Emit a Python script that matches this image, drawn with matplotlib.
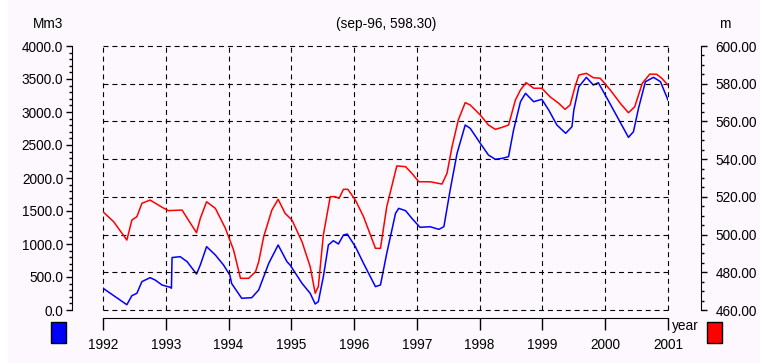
import matplotlib
matplotlib.use("Agg")
import matplotlib.pyplot as plt
from matplotlib.patches import Rectangle
from matplotlib.ticker import MultipleLocator, FormatStrFormatter

# volume (Mm3, left axis) - blue
vol_t = [1992.00, 1992.38, 1992.46, 1992.54, 1992.62, 1992.75, 1992.83, 1992.94,
         1993.07, 1993.09, 1993.10, 1993.23, 1993.34, 1993.49, 1993.55, 1993.65,
         1993.79, 1993.92, 1994.02, 1994.05, 1994.21, 1994.37, 1994.48, 1994.64,
         1994.79, 1994.93, 1994.98, 1995.17, 1995.30, 1995.38, 1995.43, 1995.51,
         1995.59, 1995.67, 1995.75, 1995.83, 1995.89, 1996.02, 1996.15, 1996.34,
         1996.42, 1996.52, 1996.66, 1996.71, 1996.82, 1996.92, 1997.05, 1997.21,
         1997.35, 1997.43, 1997.53, 1997.64, 1997.77, 1997.85, 1998.01, 1998.14,
         1998.25, 1998.36, 1998.46, 1998.54, 1998.65, 1998.73, 1998.86, 1998.99,
         1999.10, 1999.23, 1999.37, 1999.47, 1999.50, 1999.58, 1999.70, 1999.81,
         1999.89, 2000.03, 2000.19, 2000.37, 2000.45, 2000.53, 2000.64, 2000.77,
         2000.88, 2001.00]
vol = [330, 80, 217, 253, 430, 490, 455, 379,
       344, 330, 795, 808, 732, 545, 682, 960,
       833, 682, 530, 400, 177, 187, 303, 707,
       985, 732, 682, 404, 253, 91, 126, 505,
       985, 1050, 1000, 1136, 1151, 960, 707, 354,
       379, 859, 1465, 1540, 1505, 1389, 1253, 1262,
       1222, 1262, 1818, 2374, 2803, 2752, 2525, 2348,
       2283, 2298, 2323, 2727, 3156, 3283, 3156, 3192,
       3030, 2803, 2677, 2777, 3030, 3383, 3525, 3409,
       3444, 3207, 2929, 2616, 2702, 3055, 3459, 3525,
       3459, 3182]

# water level (m, right axis) - red
lev_t = [1992.00, 1992.17, 1992.38, 1992.46, 1992.54, 1992.62, 1992.75, 1992.94,
         1993.04, 1993.26, 1993.36, 1993.49, 1993.55, 1993.65, 1993.79, 1993.95,
         1994.08, 1994.19, 1994.32, 1994.43, 1994.48, 1994.56, 1994.69, 1994.79,
         1994.90, 1995.01, 1995.17, 1995.30, 1995.38, 1995.43, 1995.51, 1995.62,
         1995.70, 1995.76, 1995.83, 1995.90, 1996.02, 1996.15, 1996.34, 1996.42,
         1996.52, 1996.68, 1996.82, 1996.92, 1997.03, 1997.21, 1997.40, 1997.48,
         1997.56, 1997.66, 1997.77, 1997.85, 1998.01, 1998.14, 1998.25, 1998.36,
         1998.46, 1998.57, 1998.65, 1998.74, 1998.86, 1998.99, 1999.12, 1999.26,
         1999.36, 1999.44, 1999.52, 1999.58, 1999.70, 1999.81, 1999.92, 2000.08,
         2000.24, 2000.37, 2000.47, 2000.59, 2000.71, 2000.82, 2000.90, 2001.00]
lev = [512.1, 506.8, 497.1, 507.7, 509.5, 516.6, 518.3, 514.5,
       512.7, 513.0, 507.7, 501.0, 508.6, 517.4, 513.9, 503.3,
       491.8, 476.8, 476.8, 480.3, 485.6, 498.9, 513.0, 518.7,
       511.3, 507.7, 496.2, 483.0, 468.9, 472.4, 499.8, 520.1,
       520.1, 519.2, 524.0, 524.0, 518.3, 509.5, 492.7, 492.7,
       514.8, 536.4, 536.0, 532.5, 528.0, 528.0, 526.8, 532.5,
       546.6, 560.8, 570.0, 568.7, 563.4, 558.1, 555.8, 556.9,
       558.1, 571.4, 576.7, 580.6, 577.6, 577.6, 573.1, 569.6,
       566.4, 568.7, 578.5, 584.6, 585.5, 583.2, 582.9, 576.7,
       569.6, 564.6, 567.8, 580.2, 585.1, 585.0, 582.9, 579.3]

years = list(range(1992, 2002))

W, H = 760, 363
PT = 72 / 100  # px -> pt
plt.rcParams['font.family'] = ['Liberation Sans', 'DejaVu Sans']
FS = 9.8
BG = '#fdf8fd'

fig = plt.figure(figsize=(W / 100, H / 100), dpi=100, facecolor=BG)
fig.patches.append(Rectangle((0, 0), 8 / W, 1, transform=fig.transFigure,
                             facecolor='white', edgecolor='none'))

ax = fig.add_axes([103 / W, 1 - 310 / H, 565 / W, 264 / H])
ax.set_facecolor('none')
ax.plot(vol_t, vol, color='#0000ff', lw=1.1)
ax.set_xlim(1992, 2001)
ax.set_ylim(0, 4000)

ax2 = ax.twinx()
ax2.plot(lev_t, lev, color='#ff0000', lw=1.1)
ax2.set_ylim(460, 600)

# spines
for s in ['top', 'right']:
    ax.spines[s].set_visible(False)
for s in ['top', 'left', 'bottom']:
    ax2.spines[s].set_visible(False)
ax.spines['left'].set_position(('outward', 31 * PT))
ax.spines['bottom'].set_position(('outward', 8 * PT))
ax2.spines['right'].set_position(('outward', 33 * PT))

ax.set_xticks(years)
ax.set_xticklabels([str(y) for y in years])
ax.tick_params(axis='x', direction='out', length=12 * PT, width=1, pad=5.5, labelsize=FS)

ax.yaxis.set_major_locator(MultipleLocator(500))
ax.yaxis.set_minor_locator(MultipleLocator(100))
ax.yaxis.set_major_formatter(FormatStrFormatter('%.1f'))
ax.tick_params(axis='y', which='major', length=6 * PT, width=1, pad=2, labelsize=FS)
ax.tick_params(axis='y', which='minor', length=3 * PT, width=1)

ax2.yaxis.set_major_locator(MultipleLocator(20))
ax2.yaxis.set_minor_locator(MultipleLocator(5))
ax2.yaxis.set_major_formatter(FormatStrFormatter('%.2f'))
ax2.tick_params(axis='y', which='major', length=6 * PT, width=1, pad=6, labelsize=FS)
ax2.tick_params(axis='y', which='minor', length=3 * PT, width=1)

# dashed grid: verticals at years, horizontals at right-axis ticks
gs = dict(color='black', linestyle=(0, (4.5, 3.5)), linewidth=0.8)
ax.grid(axis='x', **gs)
ax2.grid(axis='y', **gs)
ax.set_axisbelow(True)
for ln in ax.get_xgridlines() + ax2.get_ygridlines():
    ln.set_clip_on(False)

fig.text(386 / W, 1 - 24 / H, '(sep-96, 598.30)', ha='center', va='center', fontsize=FS)
fig.text(48 / W, 1 - 24 / H, 'Mm3', ha='center', va='center', fontsize=FS)
fig.text(725 / W, 1 - 24 / H, 'm', ha='center', va='center', fontsize=FS)
fig.text(672 / W, 1 - 326 / H, 'year', ha='left', va='center', fontsize=FS)

fig.patches.append(Rectangle((51 / W, 1 - 343 / H), 15 / W, 21 / H, transform=fig.transFigure,
                             facecolor='#0000ff', edgecolor='black', lw=1))
fig.patches.append(Rectangle((707 / W, 1 - 343 / H), 15 / W, 21 / H, transform=fig.transFigure,
                             facecolor='#ff0000', edgecolor='black', lw=1))

fig.savefig('out.png', dpi=100, facecolor=BG)
